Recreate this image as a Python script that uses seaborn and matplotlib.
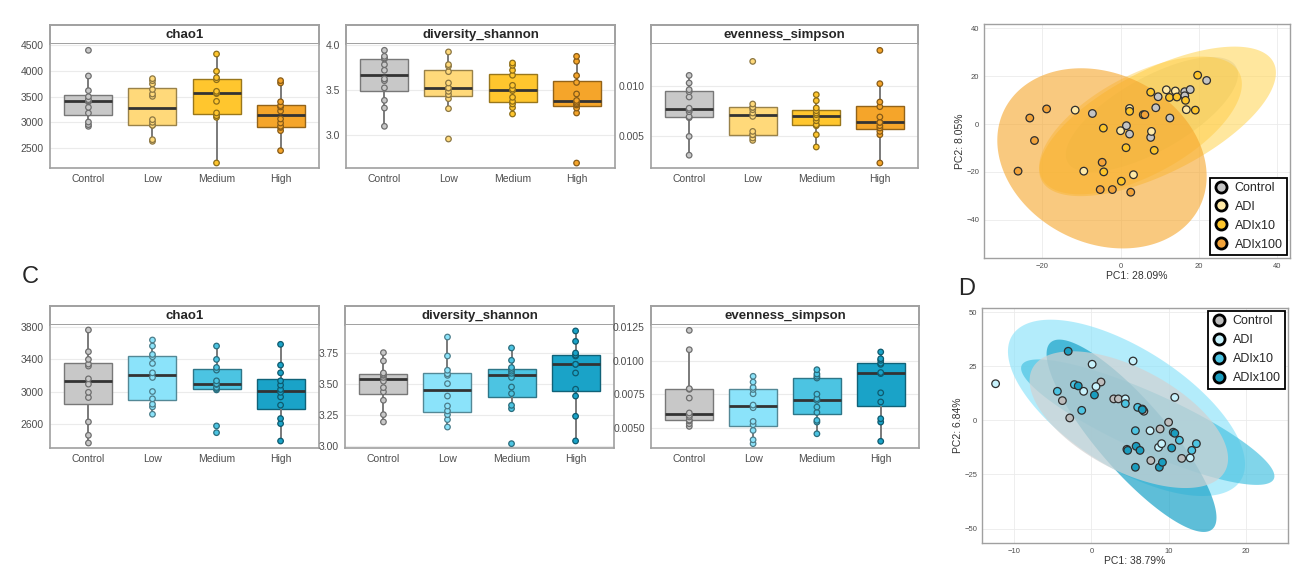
import numpy as np
import pandas as pd
import seaborn as sns
import matplotlib.pyplot as plt
import matplotlib.colors as mcolors
from matplotlib.lines import Line2D

groups = ["Control", "Low", "Medium", "High"]
pca_groups = ["Control", "ADI", "ADIx10", "ADIx100"]

yellow_pal = ["#C8C8C8", "#FFD97A", "#FFC62E", "#F5A52A"]
blue_pal = ["#C8C8C8", "#8BE3FA", "#4CC4E2", "#1AA3C8"]

# top row (panel A) alpha diversity
top_chao1 = {
    "Control": [2922, 2955, 3006, 3180, 3292, 3400, 3420, 3442, 3500, 3617, 3903, 4403],
    "Low": [2630, 2662, 2942, 2942, 3000, 3052, 3506, 3552, 3640, 3747, 3812, 3851],
    "Medium": [2208, 3097, 3130, 3183, 3409, 3560, 3571, 3604, 3830, 3870, 3994, 4331],
    "High": [2448, 2838, 2900, 2922, 2987, 3065, 3220, 3299, 3325, 3400, 3766, 3812],
}
top_shannon = {
    "Control": [3.093, 3.296, 3.381, 3.52, 3.60, 3.619, 3.715, 3.778, 3.84, 3.852, 3.870, 3.937],
    "Low": [2.952, 3.289, 3.40, 3.444, 3.481, 3.519, 3.519, 3.574, 3.70, 3.76, 3.778, 3.919],
    "Medium": [3.230, 3.30, 3.341, 3.37, 3.415, 3.49, 3.507, 3.548, 3.66, 3.715, 3.770, 3.796],
    "High": [2.685, 3.241, 3.296, 3.33, 3.344, 3.36, 3.38, 3.452, 3.58, 3.656, 3.815, 3.870],
}
top_simpson = {
    "Control": [0.00305, 0.00493, 0.0068, 0.0069, 0.0074, 0.0076, 0.00775, 0.00887, 0.0094, 0.0096, 0.01027, 0.01103],
    "Low": [0.00453, 0.00477, 0.0051, 0.0051, 0.00543, 0.00693, 0.00727, 0.0076, 0.00783, 0.00783, 0.00817, 0.01243],
    "Medium": [0.00387, 0.0051, 0.0060, 0.0061, 0.0065, 0.00677, 0.0071, 0.00727, 0.0075, 0.00777, 0.0085, 0.0091],
    "High": [0.00227, 0.0051, 0.00543, 0.00577, 0.006, 0.00633, 0.00633, 0.00687, 0.0079, 0.00837, 0.0102, 0.01353],
}

# bottom row (panel C)
bot_chao1 = {
    "Control": [2358, 2454, 2621, 2925, 2990, 3092, 3158, 3317, 3342, 3400, 3496, 3767],
    "Low": [2717, 2808, 2842, 2909, 3000, 3175, 3233, 3350, 3433, 3462, 3567, 3642],
    "Medium": [2487, 2571, 3020, 3037, 3050, 3088, 3096, 3133, 3267, 3300, 3400, 3567],
    "High": [2383, 2600, 2663, 2830, 2933, 2990, 3025, 3079, 3133, 3233, 3329, 3588],
}
bot_shannon = {
    "Control": [3.191, 3.25, 3.366, 3.434, 3.468, 3.52, 3.55, 3.567, 3.575, 3.586, 3.683, 3.75],
    "Low": [3.15, 3.21, 3.25, 3.28, 3.320, 3.40, 3.50, 3.567, 3.580, 3.608, 3.723, 3.876],
    "Medium": [3.016, 3.298, 3.325, 3.42, 3.473, 3.55, 3.583, 3.60, 3.615, 3.63, 3.688, 3.788],
    "High": [3.038, 3.237, 3.40, 3.455, 3.586, 3.656, 3.656, 3.723, 3.73, 3.747, 3.841, 3.925],
}
bot_simpson = {
    "Control": [0.0051, 0.0053, 0.0055, 0.00557, 0.0058, 0.00592, 0.0061, 0.00721, 0.00786, 0.00791, 0.01081, 0.01225],
    "Low": [0.00381, 0.0041, 0.0048, 0.00522, 0.00547, 0.00649, 0.00669, 0.00753, 0.00785, 0.0080, 0.0084, 0.00883],
    "Medium": [0.00455, 0.00542, 0.00555, 0.00614, 0.00654, 0.00704, 0.00716, 0.0075, 0.0087, 0.00883, 0.0090, 0.00932],
    "High": [0.00399, 0.00542, 0.00567, 0.00692, 0.0076, 0.00903, 0.00911, 0.00972, 0.0098, 0.01002, 0.01014, 0.01064],
}

# PCA scores, top (B)
top_pc1 = {
    "Control": [-7.2, 1.5, 2.3, 7.7, 9.0, 9.6, 12.6, 16.4, 17.8, 16.4, 22.0],
    "ADI": [-11.6, 0.0, -9.4, 3.3, 7.9, 2.3, 11.7, 14.0, 16.8],
    "ADIx10": [-4.4, -4.3, 0.2, 1.4, 8.6, 7.7, 12.5, 14.4, 16.6, 19.7, 19.1, 2.3, 5.8],
    "ADIx100": [-23.2, -22.0, -26.2, -18.9, -4.7, -5.2, -2.1, 2.6, 6.2],
}
top_pc2 = {
    "Control": [4.4, -0.7, -4.2, -5.6, 6.8, 11.4, 2.5, 13.5, 14.4, 11.8, 18.2],
    "ADI": [5.8, -2.8, -19.7, -21.2, -3.1, 6.5, 14.3, 13.8, 6.0],
    "ADIx10": [-1.7, -20.0, -23.9, -9.9, -11.0, 13.3, 11.1, 11.3, 9.9, 20.4, 5.8, 5.3, 3.9],
    "ADIx100": [2.5, -6.9, -19.7, 6.3, -16.0, -27.4, -27.4, -28.5, 3.9],
}
# ellipse: centre x, centre y, half range x, half range y, correlation
top_ellipses = {
    "Control": (8.0, 4.0, 22.0, 24.0, 0.7),
    "ADI": (9.45, 1.1, 30.25, 31.25, 0.65),
    "ADIx10": (5.1, -0.6, 25.9, 28.8, 0.6),
    "ADIx100": (-4.75, -14.35, 26.75, 37.65, -0.2),
}
top_ell_alpha = {"Control": 0.5, "ADI": 0.6, "ADIx10": 0.4, "ADIx100": 0.6}

# PCA scores, bottom (D)
bot_pc1 = {
    "Control": [-3.75, -2.8, 1.25, 2.9, 3.5, 4.6, 6.8, 7.7, 8.9, 10.0, 11.7],
    "ADI": [-12.4, -1.0, 0.1, 0.6, 4.4, 5.4, 7.6, 8.7, 9.1, 10.8, 12.8],
    "ADIx10": [-4.4, -2.2, -1.25, 4.4, 5.7, 6.0, 6.6, 10.6, 11.4, 13.0, 13.6],
    "ADIx100": [-3.0, -1.7, 0.4, 4.7, 5.8, 6.3, 5.7, 8.8, 9.2, 10.4, 10.8, 6.6],
}
bot_pc2 = {
    "Control": [9.1, 1.1, 17.7, 9.9, 9.9, -13.4, 4.2, -18.6, -4.0, -0.9, -17.6],
    "ADI": [16.9, 13.4, 25.9, 15.6, 9.9, 27.4, -4.8, -12.5, -10.8, 10.6, -17.4],
    "ADIx10": [13.4, 16.5, 4.6, 7.7, -4.8, 6.0, 5.2, -5.5, -9.2, -13.9, -10.8],
    "ADIx100": [31.9, 15.9, 11.7, -13.9, -12.0, -13.9, -21.7, -21.7, -19.4, -12.8, -6.0, 4.9],
}
bot_ellipses = {
    "ADI": (4.55, 5.75, 15.35, 40.75, -0.64),
    "ADIx10": (7.3, -0.85, 16.4, 29.0, -0.86),
    "ADIx100": (5.2, -7.15, 11.0, 44.45, -0.85),
    "Control": (4.85, 0.3, 12.85, 31.6, -0.57),
}
bot_ell_alpha = {"Control": 0.7, "ADI": 0.65, "ADIx10": 0.7, "ADIx100": 0.7}

W, H = 1313, 574
FRAME = "#A0A0A0"
TICKC = "#4D4D4D"


def darken(c, f=0.55):
    return tuple(np.array(mcolors.to_rgb(c)) * f)


def px_axes(fig, x0, y0, x1, y1):
    return fig.add_axes([x0 / W, 1 - y1 / H, (x1 - x0) / W, (y1 - y0) / H])


def style_frame(ax, lw=1.2):
    for s in ax.spines.values():
        s.set_color(FRAME)
        s.set_linewidth(lw)


def box_panel(fig, x0, x1, ys, ye, yp, values, pal, title, ylim, yticks, ylabels):
    strip = px_axes(fig, x0, ys, x1, ye)
    strip.set_xticks([])
    strip.set_yticks([])
    style_frame(strip, 1.4)
    strip.text(0.5, 0.45, title, ha="center", va="center", fontsize=9.5,
               fontweight="bold", transform=strip.transAxes)

    ax = px_axes(fig, x0, ye, x1, yp)
    df = pd.DataFrame([(g, v) for g in groups for v in values[g]], columns=["group", "value"])
    sns.boxplot(data=df, x="group", y="value", hue="group", order=groups, hue_order=groups,
                palette=pal, saturation=1, width=0.75, showfliers=False, showcaps=False,
                whis=1.5, linewidth=1.0, legend=False, ax=ax,
                medianprops=dict(color="#333333", linewidth=2.0),
                whiskerprops=dict(color="#7A7A7A", linewidth=1.4))
    for patch in ax.patches:
        patch.set_edgecolor(darken(patch.get_facecolor()[:3], 0.6))
        patch.set_zorder(2)
    n_before = len(ax.collections)
    sns.stripplot(data=df, x="group", y="value", hue="group", order=groups, hue_order=groups,
                  palette=pal, jitter=False, size=4.0, linewidth=0.9, edgecolor="gray",
                  legend=False, ax=ax, zorder=4)
    for coll in ax.collections[n_before:]:
        fc = coll.get_facecolor()
        if len(fc):
            coll.set_edgecolor(darken(fc[0][:3], 0.55))
    ax.set_xlim(-0.6, 3.6)
    ax.set_ylim(*ylim)
    ax.set_yticks(yticks)
    ax.set_yticklabels(ylabels)
    ax.set_xlabel("")
    ax.set_ylabel("")
    ax.grid(axis="y", color="#EBEBEB", linewidth=0.8)
    ax.set_axisbelow(True)
    ax.tick_params(axis="both", labelsize=7.5, colors=TICKC, length=2.5, width=0.6,
                   labelcolor=TICKC, pad=2)
    style_frame(ax, 1.2)
    ax.spines["top"].set_visible(False)
    return ax


def ellipse_xy(cx, cy, sx, sy, r):
    t = np.linspace(0, 2 * np.pi, 200)
    return cx + sx * np.cos(t), cy + sy * (r * np.cos(t) + np.sqrt(1 - r * r) * np.sin(t))


def pca_panel(fig, box, pc1, pc2, ellipses, ell_cols, ell_alpha, pt_cols, xlim, ylim,
              xticks, yticks, xlab, ylab, legend_loc):
    ax = px_axes(fig, *box)
    for g, (cx, cy, sx, sy, r) in ellipses.items():
        ex, ey = ellipse_xy(cx, cy, sx, sy, r)
        ax.fill(ex, ey, color=ell_cols[g], alpha=ell_alpha[g], lw=0, zorder=1)
    df = pd.DataFrame([(g, a, b) for g in pca_groups for a, b in zip(pc1[g], pc2[g])],
                      columns=["group", "PC1", "PC2"])
    sns.scatterplot(data=df, x="PC1", y="PC2", hue="group", hue_order=pca_groups,
                    palette=pt_cols, s=30, edgecolor="#2E2E2E", linewidth=0.9,
                    legend=False, ax=ax, zorder=3)
    ax.set_xlim(*xlim)
    ax.set_ylim(*ylim)
    ax.set_xticks(xticks)
    ax.set_yticks(yticks)
    ax.grid(color="#EBEBEB", linewidth=0.6)
    ax.set_axisbelow(True)
    ax.tick_params(labelsize=5.5, colors=TICKC, length=2, width=0.5, pad=1.5)
    ax.set_xlabel(xlab, fontsize=7.5, color="#333333", labelpad=1)
    ax.set_ylabel(ylab, fontsize=7.5, color="#333333", labelpad=1)
    style_frame(ax, 1.0)
    handles = [Line2D([], [], marker="o", ls="", markersize=8, markerfacecolor=pt_cols[g],
                      markeredgecolor="black", markeredgewidth=2.0, label=g) for g in pca_groups]
    leg = ax.legend(handles=handles, loc=legend_loc, fontsize=9, frameon=True, fancybox=False,
                    borderpad=0.35, labelspacing=0.55, handletextpad=0.45, handlelength=1.2,
                    borderaxespad=0.25)
    leg.get_frame().set_edgecolor("black")
    leg.get_frame().set_linewidth(1.3)
    leg.get_frame().set_alpha(1)
    return ax


sns.set_style("white")
plt.rcParams["font.family"] = ["Liberation Sans", "DejaVu Sans"]

fig = plt.figure(figsize=(W / 100, H / 100), dpi=100)

# top row
box_panel(fig, 50, 319, 25, 44, 168, top_chao1, yellow_pal, "chao1", (2110, 4526),
          [2500, 3000, 3500, 4000, 4500], ["2500", "3000", "3500", "4000", "4500"])
box_panel(fig, 346, 615, 25, 44, 168, top_shannon, yellow_pal, "diversity_shannon", (2.63, 4.007),
          [3.0, 3.5, 4.0], ["3.0", "3.5", "4.0"])
box_panel(fig, 651, 918, 25, 44, 168, top_simpson, yellow_pal, "evenness_simpson", (0.00177, 0.01417),
          [0.005, 0.010], ["0.005", "0.010"])

# bottom row
box_panel(fig, 50, 319, 306, 325, 448, bot_chao1, blue_pal, "chao1", (2296, 3829),
          [2600, 3000, 3400, 3800], ["2600", "3000", "3400", "3800"])
box_panel(fig, 345, 614, 306, 325, 448, bot_shannon, blue_pal, "diversity_shannon", (2.981, 3.973),
          [3.0, 3.25, 3.5, 3.75], ["3.00", "3.25", "3.50", "3.75"])
box_panel(fig, 651, 919, 306, 325, 448, bot_simpson, blue_pal, "evenness_simpson", (0.00349, 0.01265),
          [0.005, 0.0075, 0.010, 0.0125], ["0.0050", "0.0075", "0.0100", "0.0125"])

top_ell_cols = dict(zip(pca_groups, ["#C0C0C0", "#FFD75E", "#FFC62E", "#F5A52A"]))
top_pt_cols = dict(zip(pca_groups, ["#C4C4C4", "#FFE9A6", "#FDC52B", "#F2A33A"]))
pca_panel(fig, (984, 24, 1290, 258), top_pc1, top_pc2, top_ellipses, top_ell_cols, top_ell_alpha,
          top_pt_cols, (-34.9, 43.3), (-56, 41.8), [-20, 0, 20, 40], [-40, -20, 0, 20, 40],
          "PC1: 28.09%", "PC2: 8.05%", "lower right")

bot_ell_cols = dict(zip(pca_groups, ["#D2D2D2", "#8BE3FA", "#4CC4E2", "#1AA3C8"]))
bot_pt_cols = dict(zip(pca_groups, ["#BDBDBD", "#C8F2FC", "#4CC4E2", "#1A9DBF"]))
pca_panel(fig, (982, 308, 1288, 543), bot_pc1, bot_pc2, bot_ellipses, bot_ell_cols, bot_ell_alpha,
          bot_pt_cols, (-14.16, 25.46), (-56.7, 51.9), [-10, 0, 10, 20], [-50, -25, 0, 25, 50],
          "PC1: 38.79%", "PC2: 6.84%", "upper right")

fig.text(22 / W, 1 - 277 / H, "C", fontsize=17, va="center", ha="left")
fig.text(958 / W, 1 - 289 / H, "D", fontsize=17, va="center", ha="left")

fig.savefig("out.png", dpi=100)
